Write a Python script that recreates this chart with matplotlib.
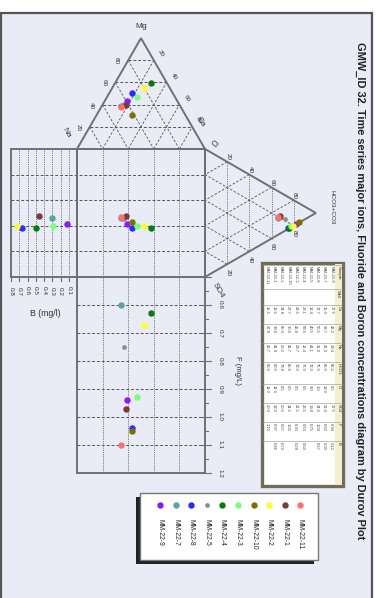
import numpy as np
import matplotlib.pyplot as plt
from matplotlib.patches import Rectangle, Polygon

plt.rcParams['font.family'] = ['Liberation Sans', 'DejaVu Sans']

# ---- sample data ----
names = ["MM-22-9", "MM-22-7", "MM-22-8", "MM-22-5", "MM-22-4",
         "MM-22-3", "MM-22-10", "MM-22-2", "MM-22-1", "MM-22-11"]
colors = ["#8a1cff", "#5fa0a0", "#2b2bff", "#8c8c8c", "#0a7a0a",
          "#7dff7d", "#7a7200", "#ffff30", "#7b3b3b", "#ff7070"]
# cations, % meq
ca = np.array([17.5, 15.0, 17.7, 16.4, 28.1, 23.5, 27.7, 24.8, 18.5, 15.5])
mg = np.array([43.2, 38.7, 50.5, 40.5, 59.5, 46.8, 30.6, 55.0, 39.6, 37.8])
na = np.array([39.3, 46.3, 31.8, 43.1, 12.4, 29.7, 41.7, 20.2, 41.9, 46.7])
# anions, % meq
hco3 = np.array([82.0, 66.0, 75.0, 72.0, 76.0, 78.0, 85.0, 79.0, 68.0, 66.0])
so4 = np.array([17.5, 21.0, 24.0, 19.0, 23.5, 21.5, 14.5, 20.5, 18.0, 20.0])
cl = np.array([0.5, 13.0, 1.0, 9.0, 0.5, 0.5, 0.5, 0.5, 14.0, 14.0])
# fluoride and boron, mg/L
fl = np.array([0.94, 0.60, 1.04, 0.75, 0.63, 0.93, 1.05, 0.67, 0.97, 1.10])
bo = np.array([0.12, 0.30, 0.67, np.nan, 0.50, 0.29, np.nan, 0.73, 0.46, np.nan])

f_ticks = [0.6, 0.7, 0.8, 0.9, 1.0, 1.1, 1.2]
b_ticks = [0.1, 0.2, 0.3, 0.4, 0.5, 0.6, 0.7, 0.8]
pct_ticks = [20, 40, 60, 80]

title = ("GMW_ID 32. Time series major ions, Fluoride and Boron "
         "concentrations diagram by Durov Plot")

# ---- geometry (pixel space, the whole diagram is turned 90 deg) ----
W, H = 379, 598
SQ_L, SQ_R, SQ_T, SQ_B = 77.0, 205.0, 149.0, 277.0
SIDE = SQ_R - SQ_L
TH = SIDE * np.sqrt(3) / 2
NA_P = np.array([SQ_L, SQ_T]); CA_P = np.array([SQ_R, SQ_T])
MG_P = np.array([(SQ_L + SQ_R) / 2, SQ_T - TH])
CL_P = np.array([SQ_R, SQ_T]); SO_P = np.array([SQ_R, SQ_B])
HC_P = np.array([SQ_R + TH, (SQ_T + SQ_B) / 2])
B_L = 11.0           # left edge of boron box (B = 0.8)
F_TOP, F_BOT, F0, F1 = SQ_B, 473.0, 0.5, 1.2

GRID = "#555555"
EDGE = "#707070"


def tri(p1, p2, p3, a, b, c):
    s = a + b + c
    return (a * p1[0] + b * p2[0] + c * p3[0]) / s, (a * p1[1] + b * p2[1] + c * p3[1]) / s


def cat_xy(c, m, n):
    return tri(CA_P, MG_P, NA_P, c, m, n)


def an_xy(l, s, h):
    return tri(CL_P, SO_P, HC_P, l, s, h)


def f_y(v):
    return F_TOP + (np.asarray(v) - F0) / (F1 - F0) * (F_BOT - F_TOP)


def b_x(v):
    return SQ_R - SIDE - np.asarray(v) / 0.8 * (SQ_L - B_L)


def seg(ax, p, q, ls, lw=0.6):
    ax.plot([p[0], q[0]], [p[1], q[1]], color=GRID, lw=lw, ls=ls, zorder=2)


DASH = (0, (3, 2))
DOT = (0, (1, 1.2))

fig = plt.figure(figsize=(W / 100, H / 100), dpi=100)
ax = fig.add_axes([0, 0, 1, 1])
ax.set_xlim(0, W); ax.set_ylim(H, 0); ax.axis("off")

ax.add_patch(Rectangle((1, 13), 371, 600, fc="#e9ecf6", ec="#555555", lw=1.6, zorder=0))
ax.text(360, 42, title, rotation=-90, ha="center", va="top",
        fontsize=7.9, fontweight="bold", color="#222222")

# ---- grids ----
for p in pct_ticks:
    f = p / 100
    # cation triangle
    seg(ax, cat_xy(0, f, 1 - f), cat_xy(1 - f, f, 0), DASH, 0.7)
    seg(ax, cat_xy(f, 0, 1 - f), cat_xy(f, 1 - f, 0), DASH)
    seg(ax, cat_xy(0, 1 - f, f), cat_xy(1 - f, 0, f), DASH)
    # anion triangle
    seg(ax, an_xy(1 - f, 0, f), an_xy(0, 1 - f, f), DOT)
    seg(ax, an_xy(f, 0, 1 - f), an_xy(f, 1 - f, 0), DASH)
    seg(ax, an_xy(0, f, 1 - f), an_xy(1 - f, f, 0), DASH)
    # square, boron box, fluoride box
    xv = SQ_L + f * SIDE
    yh = SQ_T + f * SIDE
    seg(ax, (xv, SQ_T), (xv, F_BOT), DOT)
    seg(ax, (B_L, yh), (SQ_R, yh), DASH, 0.7)
for v in b_ticks[:-1]:
    seg(ax, (b_x(v), SQ_T), (b_x(v), SQ_B), DOT)
for v in f_ticks[:-1]:
    seg(ax, (SQ_L, f_y(v)), (SQ_R, f_y(v)), DASH, 0.7)

# ---- outlines ----
ol = dict(fill=False, ec=EDGE, lw=1.4, zorder=3)
ax.add_patch(Polygon([NA_P, MG_P, CA_P], closed=True, **ol))
ax.add_patch(Polygon([CL_P, HC_P, SO_P], closed=True, **ol))
ax.add_patch(Rectangle((SQ_L, SQ_T), SIDE, SIDE, **ol))
ax.add_patch(Rectangle((B_L, SQ_T), SQ_L - B_L, SIDE, **ol))
ax.add_patch(Rectangle((SQ_L, F_TOP), SIDE, F_BOT - F_TOP, **ol))

# ---- axis labels ----
tk = dict(fontsize=4.6, color="#333333", ha="center", va="center")
for p in pct_ticks:
    f = p / 100
    x, y = cat_xy(0, f, 1 - f)
    ax.text(x - 11.5, y + 0.5, str(p), rotation=-90, **tk)
    x, y = cat_xy(f, 1 - f, 0)
    ax.text(x + 7, y - 6.5, str(p), rotation=-60, **tk)
    x, y = an_xy(1 - f, 0, f)
    ax.text(x + 1, y - 5, str(p), rotation=-90, **tk)
    x, y = an_xy(0, 1 - f, f)
    ax.text(x + 1, y + 8, str(p), rotation=-90, **tk)
ax.text(MG_P[0], MG_P[1] - 12, "Mg", fontsize=6, color="#333333", ha="center", va="center")
ax.text(NA_P[0] - 11, NA_P[1] - 16, "Na", rotation=-60, fontsize=6, color="#333333", ha="center", va="center")
ax.text(CA_P[0] - 4, CA_P[1] - 27, "Ca", rotation=-60, fontsize=6, color="#333333", ha="center", va="center")
ax.text(CL_P[0] + 9, CL_P[1] - 5, "Cl", rotation=-40, fontsize=6, color="#333333", ha="center", va="center")
ax.text(SO_P[0] + 13, SO_P[1] + 13, "SO4", rotation=-60, fontsize=6, color="#333333", ha="center", va="center")
ax.text(HC_P[0] + 16, HC_P[1] - 6, "HCO3+CO3", rotation=-90, fontsize=4.6, color="#333333", ha="center", va="center")

# fluoride axis
for v in np.arange(0.5, 1.2001, 0.05):
    major = abs(v * 10 - round(v * 10)) < 1e-6
    ax.plot([SQ_R - (3 if major else 0), SQ_R + (6 if major else 3)], [f_y(v)] * 2,
            color=EDGE, lw=0.8, zorder=3)
for v in f_ticks:
    ax.text(SQ_R + 15, f_y(v), f"{v:.1f}", rotation=-90, **tk)
ax.text(238, 370, "F (mg/L)", rotation=-90, fontsize=5.5, color="#333333", ha="center", va="center")

# boron axis
for v in b_ticks:
    ax.plot([b_x(v)] * 2, [SQ_B, SQ_B + 4], color=EDGE, lw=0.8, zorder=3)
    ax.text(b_x(v), SQ_B + 14, f"{v:.1f}", rotation=-90, **tk)
ax.text(45, 314, "B (mg/l)", fontsize=6.3, color="#333333", ha="center", va="center")

# ---- data points ----
cx, cy = cat_xy(ca, mg, na)
axx, ayy = an_xy(cl, so4, hco3)
ms = [3.6, 3.6, 3.6, 2.4, 3.6, 3.6, 3.6, 3.6, 3.6, 3.6]
for i in range(len(names)):
    st = dict(marker="o", ms=ms[i], color=colors[i], mec=colors[i], ls="none", zorder=5)
    ax.plot(cx[i], cy[i], **st)
    ax.plot(axx[i], ayy[i], **st)
    ax.plot(cx[i], ayy[i], **st)
    ax.plot(cx[i], f_y(fl[i]), **st)
    if not np.isnan(bo[i]):
        ax.plot(b_x(bo[i]), ayy[i], **st)

# ---- legend ----
ax.add_patch(Rectangle((136, 497), 178, 67, fc="#222222", ec="none", zorder=6))
ax.add_patch(Rectangle((140, 493), 178, 67, fc="white", ec="#777777", lw=1.0, zorder=7))
for i, nm in enumerate(names):
    lx = 160 + 15.6 * i
    ax.plot(lx, 505, marker="o", ms=ms[i], color=colors[i], ls="none", zorder=8)
    ax.text(lx, 519, nm, rotation=-90, ha="center", va="top", fontsize=4.9,
            color="#222222", zorder=8)

# ---- sample table ----
tx0, tx1, ty0, ty1 = 262.0, 343.0, 263.0, 486.0
ax.add_patch(Rectangle((tx0, ty0), tx1 - tx0, ty1 - ty0, fc="white", ec="#6f6c58", lw=2.4, zorder=6))
cols = [("Sample", names, 24), ("Well", [""] * 10, 16),
        ("Ca", [f"{v:.1f}" for v in ca], 19), ("Mg", [f"{v:.1f}" for v in mg], 19),
        ("Na", [f"{v:.1f}" for v in na], 19), ("HCO3", [f"{v:.1f}" for v in hco3], 22),
        ("Cl", [f"{v:.1f}" for v in cl], 19), ("SO4", [f"{v:.1f}" for v in so4], 19),
        ("F", [f"{v:.2f}" for v in fl], 19),
        ("B", ["" if np.isnan(v) else f"{v:.2f}" for v in bo], 19)]
nrow = len(names) + 1
rw = (tx1 - tx0 - 2) / nrow
yy = ty0 + 2
hx = tx1 - 1 - rw
ax.add_patch(Rectangle((hx, ty0 + 1), rw, ty1 - ty0 - 2, fc="#f1eed2", ec="none", zorder=7))
for hdr, vals, h in cols:
    ax.plot([tx0 + 1, tx1 - 1], [yy, yy], color="#a8a698", lw=0.5, zorder=8)
    ax.text(hx + rw / 2, yy + 1, hdr, rotation=-90, ha="center", va="top",
            fontsize=3.0, color="#333333", zorder=8)
    for r, v in enumerate(vals):
        ax.text(hx - rw * (r + 0.5), yy + 1, v, rotation=-90, ha="center", va="top",
                fontsize=3.0, color="#444444", zorder=8)
    yy += h

fig.savefig("out.png", dpi=100)
